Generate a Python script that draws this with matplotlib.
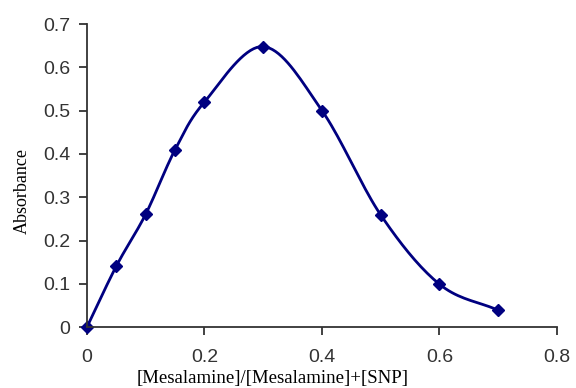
import numpy as np
import matplotlib.pyplot as plt

# mole fraction vs absorbance (Job's plot)
fraction = [0.0, 0.05, 0.1, 0.15, 0.2, 0.3, 0.4, 0.5, 0.6, 0.7]
absorbance = [0.0, 0.141, 0.261, 0.41, 0.52, 0.648, 0.50, 0.259, 0.099, 0.039]


def smooth(xs, ys, n=20):
    # Catmull-Rom curve through the points, like Excel's smoothed line
    px = np.concatenate([[2 * xs[0] - xs[1]], xs, [2 * xs[-1] - xs[-2]]])
    py = np.concatenate([[2 * ys[0] - ys[1]], ys, [2 * ys[-1] - ys[-2]]])
    t = np.linspace(0, 1, n)[:, None]
    outx, outy = [], []
    for i in range(1, len(px) - 2):
        for p, out in ((px, outx), (py, outy)):
            p0, p1, p2, p3 = p[i - 1], p[i], p[i + 1], p[i + 2]
            seg = 0.5 * ((2 * p1) + (-p0 + p2) * t
                         + (2 * p0 - 5 * p1 + 4 * p2 - p3) * t ** 2
                         + (-p0 + 3 * p1 - 3 * p2 + p3) * t ** 3)
            out.extend(seg.ravel())
    return outx, outy


fig = plt.figure(figsize=(5.76, 3.88), dpi=100)
ax = fig.add_axes([0.151, 0.157, 0.816, 0.781])

sx, sy = smooth(np.array(fraction), np.array(absorbance))
ax.plot(sx, sy, color='#000080', lw=2, clip_on=False)
ax.plot(fraction, absorbance, ls='none', marker='D', ms=6.5, color='#000080', clip_on=False)

ax.set_xlim(0, 0.8)
ax.set_ylim(0, 0.7)
ax.set_xticks([0, 0.2, 0.4, 0.6, 0.8])
ax.set_xticklabels(['0', '0.2', '0.4', '0.6', '0.8'])
ax.set_yticks([0, 0.1, 0.2, 0.3, 0.4, 0.5, 0.6, 0.7])
ax.set_yticklabels(['0', '0.1', '0.2', '0.3', '0.4', '0.5', '0.6', '0.7'])

for s in ['top', 'right']:
    ax.spines[s].set_visible(False)
for s in ['left', 'bottom']:
    ax.spines[s].set_color('#333333')
    ax.spines[s].set_linewidth(1.3)

ax.tick_params(direction='out', length=6, width=1.3, color='#333333',
               labelsize=14, labelcolor='#333333')
ax.tick_params(axis='y', pad=6)
ax.tick_params(axis='x', pad=10)
for lab in ax.get_xticklabels() + ax.get_yticklabels():
    lab.set_family('Liberation Sans')

ax.set_ylabel('Absorbance', family='Liberation Serif', fontsize=13, va='center')
ax.yaxis.set_label_coords(-0.137, 0.449)
ax.set_xlabel('[Mesalamine]/[Mesalamine]+[SNP]', family='Liberation Serif',
              fontsize=13.5, va='top')
ax.xaxis.set_label_coords(0.394, -0.14)

fig.savefig('out.png', dpi=100)
